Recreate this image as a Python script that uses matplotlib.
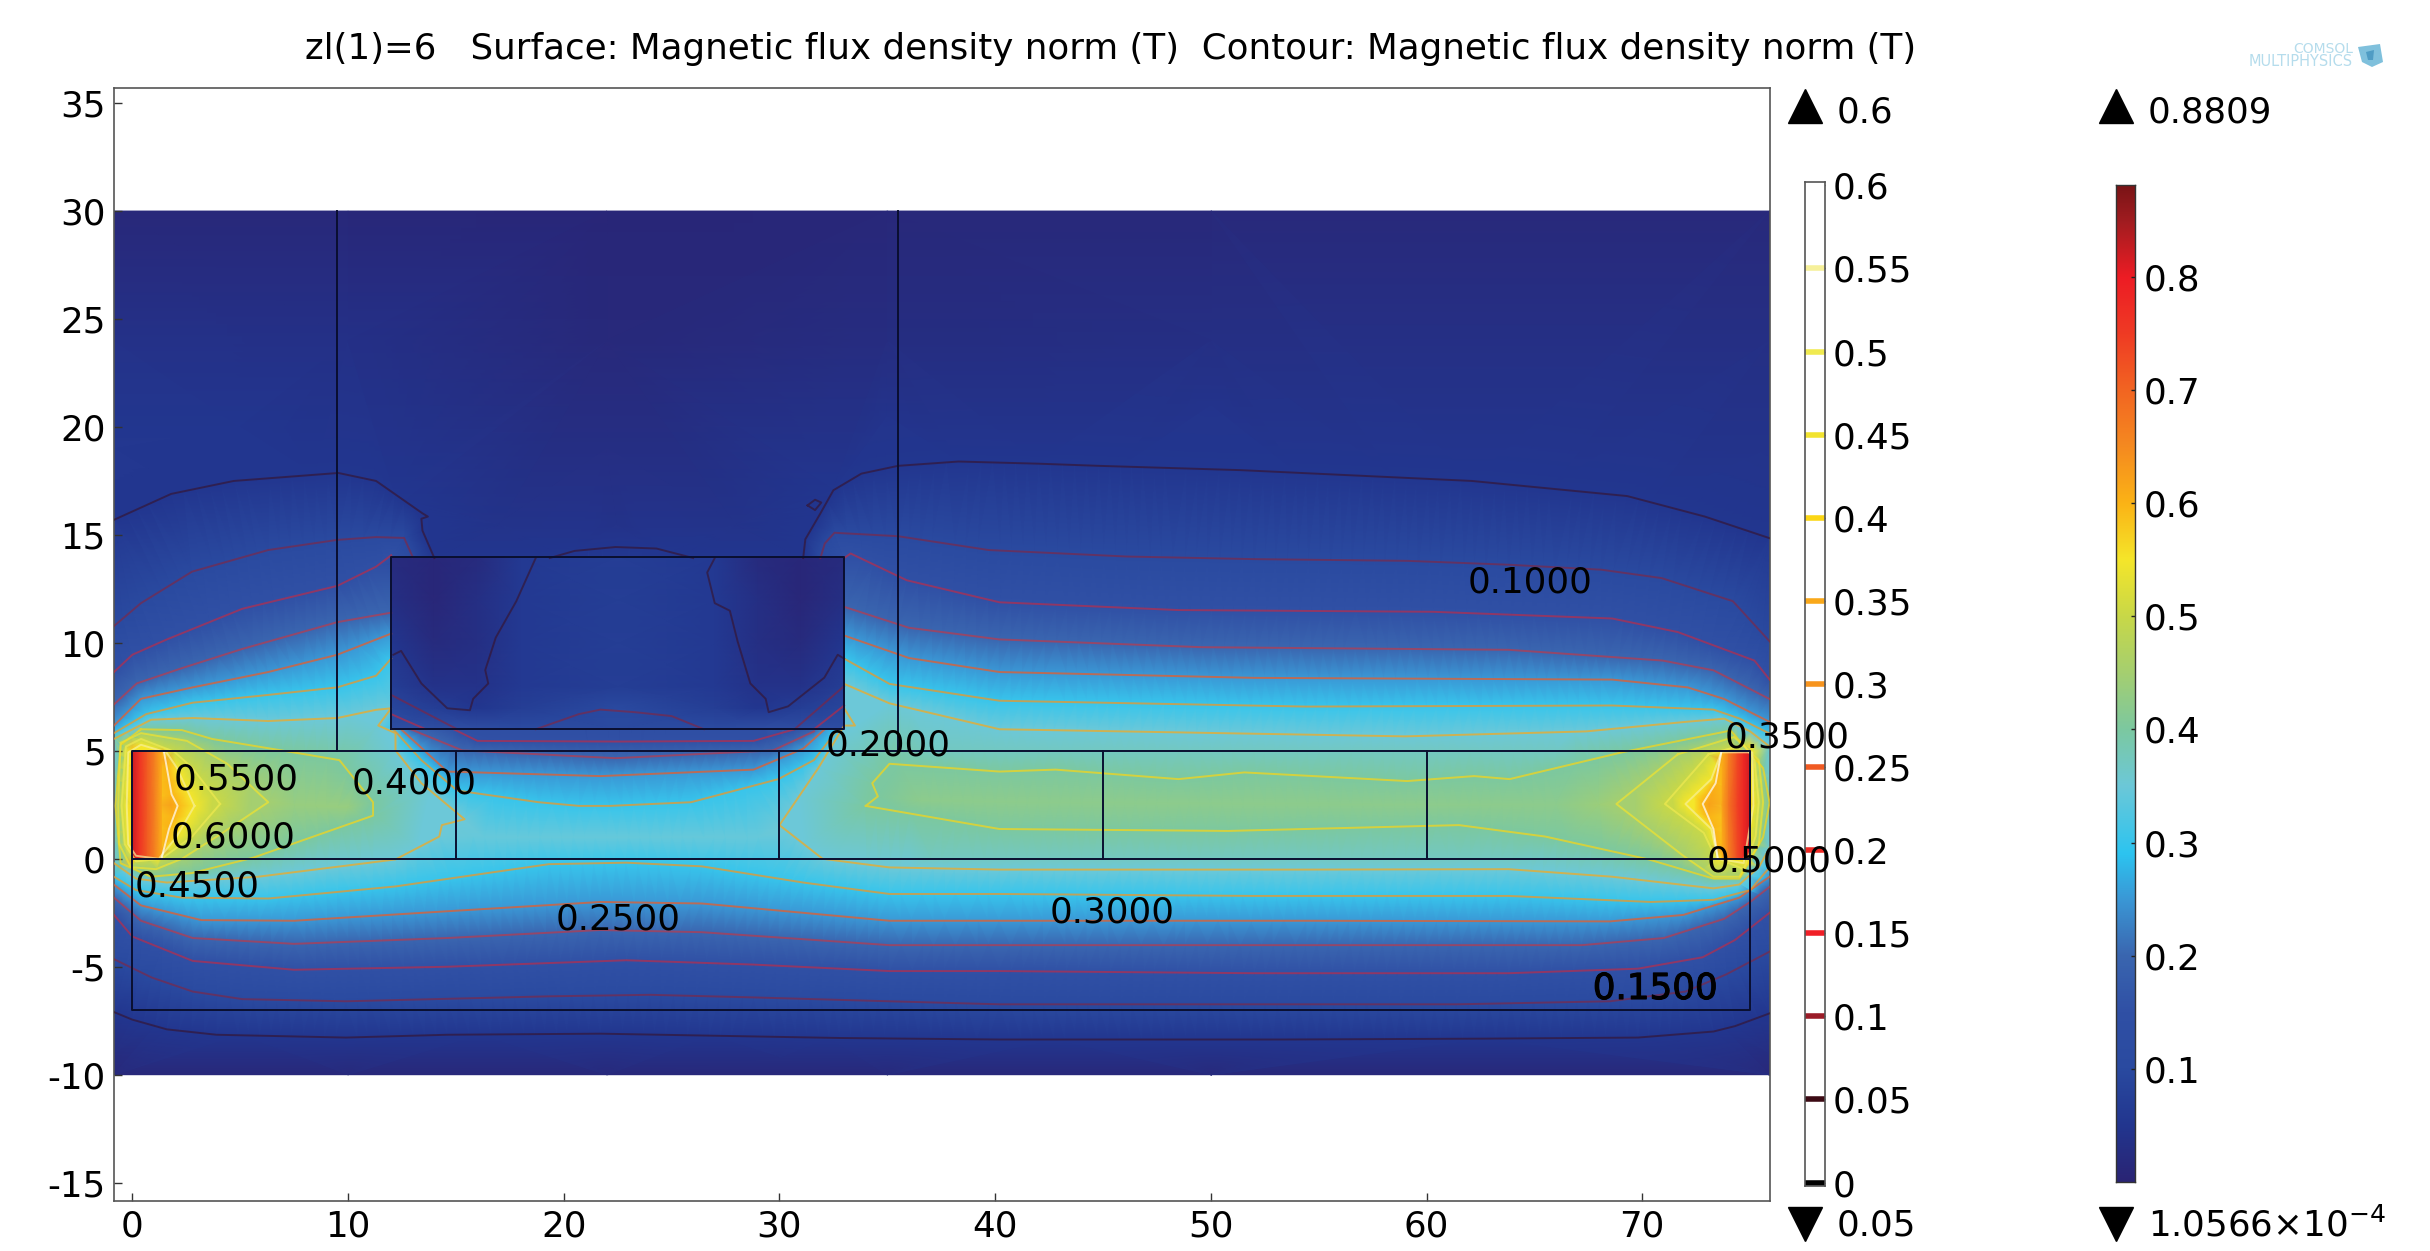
import matplotlib
matplotlib.use("Agg")
import matplotlib.pyplot as plt
from matplotlib.colors import LinearSegmentedColormap, Normalize
from matplotlib.lines import Line2D
from matplotlib.patches import Polygon
from matplotlib.tri import Triangulation
import matplotlib.patheffects as pe
import numpy as np

plt.rcParams["axes.unicode_minus"] = False

TITLE = "zl(1)=6   Surface: Magnetic flux density norm (T)  Contour: Magnetic flux density norm (T)"
X_TICKS = [0, 10, 20, 30, 40, 50, 60, 70]
Y_TICKS = [-15, -10, -5, 0, 5, 10, 15, 20, 25, 30, 35]
LEVEL_TICKS = [0, 0.05, 0.1, 0.15, 0.2, 0.25, 0.3, 0.35, 0.4, 0.45, 0.5, 0.55, 0.6]
LEVEL_LABELS = ["0", "0.05", "0.1", "0.15", "0.2", "0.25", "0.3", "0.35", "0.4", "0.45", "0.5", "0.55", "0.6"]
LEVEL_COLORS = ["#000000", "#3c0a14", "#9b1c28", "#f01f26", "#ee2a24", "#f05a22", "#f7941d",
                "#f9a81a", "#fbd615", "#f2e32f", "#f0ea50", "#f6f09a", "#ffffff"]
SURFACE_TICKS = [0.1, 0.2, 0.3, 0.4, 0.5, 0.6, 0.7, 0.8]
SURFACE_MAX = 0.8809
SURFACE_MIN = 1.0566e-4

# surface colour table, value then colour
CMAP_VALUES = [0, 0.05, 0.1, 0.15, 0.2, 0.25, 0.29, 0.35, 0.4, 0.45, 0.5, 0.55, 0.6, 0.65, 0.7, 0.75, 0.8, 0.85, 0.8809]
CMAP_COLORS = ["#2a2474", "#22368f", "#2a4aa0", "#3050a5", "#3a66b0", "#3a98d6", "#2cc4f0", "#6cc8d8", "#7cc8a0",
               "#a5cf70", "#c8d848", "#f5e62a", "#fbb316", "#f58a20", "#f26522", "#ef3b24", "#ed1c24",
               "#a01c20", "#7a1416"]

# contour lines, (x, y)
C05_BOTTOM = [(-.85, -7.1), (0, -7.45), (1.6, -7.9), (3.9, -8.15), (9.9, -8.28), (14.6, -8.15), (21.7, -8.1),
              (32.8, -8.3), (40.2, -8.37), (53.4, -8.37), (62.7, -8.33), (69.8, -8.28), (73.3, -8.0), (74.3, -7.75),
              (75.9, -7.16)]
C05_LEFT = [(-.85, 15.7), (1.8, 16.9), (4.7, 17.5), (9.55, 17.87), (11.3, 17.5), (13.45, 16), (13.7, 15.85), (13.4, 15.75),
            (13.45, 15.2), (14, 13.93)]
C05_RIGHT = [(31.1, 13.93), (31.2, 14.8), (31.9, 16), (32.5, 17.07), (33.8, 17.84), (35.5, 18.2), (38.3, 18.4),
             (42, 18.3), (44.8, 18.2), (51.4, 18), (62.1, 17.5), (69.3, 16.8), (72.9, 15.85), (75.9, 14.85)]
C05_ARCH = [(19.35, 13.93), (20.5, 14.26), (22.4, 14.44), (24.3, 14.37), (26, 13.93)]
C05_LOOP = [(31.3, 16.37), (31.65, 16.63), (31.94, 16.5), (31.65, 16.15), (31.3, 16.37)]
C05_IN_LEFT = [(18.7, 13.93), (17.8, 11.93), (16.85, 10.25), (16.36, 8.74), (16.5, 8.12), (15.8, 7.41), (15.65, 6.88),
               (14.6, 6.97), (13.4, 8.12), (12.46, 9.63), (12.1, 9.45)]
C05_IN_RIGHT = [(27, 13.93), (26.65, 13.26), (27, 11.84), (27.7, 11.49), (28.06, 10.07), (28.65, 8.12), (29.36, 7.41),
                (29.5, 6.79), (30.4, 7.06), (32.08, 8.39), (32.7, 9.45), (33, 9.27)]
C10_BOTTOM = [(-.85, -4.65), (.9, -5.5), (2.8, -6.15), (5.1, -6.5), (9.9, -6.6), (19.3, -6.37), (24, -6.3), (28.8, -6.42),
              (35.1, -6.6), (40.2, -6.74), (52, -6.74), (61.4, -6.74), (68.5, -6.6), (72, -6.15), (73.9, -5.35),
              (75.9, -4.3)]
C10_LEFT = [(-.85, 10.78), (.4, 11.84), (2.77, 13.3), (6.3, 14.3), (9.5, 14.77), (11.3, 14.9), (12.6, 14.86), (13, 13.97)]
C10_RIGHT = [(31.9, 13.93), (32.1, 14.6), (32.55, 15.1), (35.5, 14.94), (39.7, 14.3), (46.1, 14.0), (52, 13.88),
             (59.1, 13.8), (63.8, 13.62), (68.1, 13.39), (70.9, 13), (74.2, 11.93), (75.9, 10.07)]
C10_ARCH = [(18.7, 6), (20.7, 6.7), (21.7, 6.91), (23.3, 6.79), (25, 6.61), (26.5, 6)]
C10_IN_LEFT = [(12, 7.59), (15.06, 6)]
C10_IN_RIGHT = [(33, 8.0), (30.7, 6)]
C15_BOTTOM = [(-.85, -2.6), (0, -3.6), (2.8, -4.73), (7.5, -5.14), (14.6, -5.0), (22.9, -4.7), (28.8, -4.9), (35.1, -5.2),
              (40.2, -5.2), (52, -5.3), (63.8, -5.3), (69.8, -5.09), (72.8, -4.56), (74.3, -3.76), (75.9, -2.5)]
C15_LEFT = [(-.85, 8.65), (0, 9.45), (1.6, 10.16), (5.1, 11.58), (9.5, 12.64), (11.3, 13.53), (12, 14.06)]
C15_RIGHT = [(33, 13.93), (33.3, 14.14), (35.9, 12.9), (40.2, 11.88), (48.5, 11.52), (60.3, 11.44), (68.6, 11.13),
             (71.65, 10.5), (75.2, 9.18), (75.9, 8.3)]
C15_VALLEY = [(14.9, 6), (16, 5.46), (22.6, 5.43), (28.8, 5.46), (30.7, 6)]
C15_IN_LEFT = [(12, 6.7), (13.6, 6)]
C15_IN_RIGHT = [(33, 7.1), (31.6, 6)]
C20_BOTTOM = [(-.85, -1.8), (.4, -2.87), (2.8, -3.67), (7.5, -3.94), (14.6, -3.67), (21.7, -3.3), (26.4, -3.4),
              (35.1, -4.0), (40.2, -4.0), (54.4, -4.0), (67.2, -4.0), (71, -3.67), (73.8, -2.78), (75, -2), (75.9, -1.3)]
C20_LEFT = [(-.85, 7.15), (.2, 8.12), (2.3, 8.83), (5.1, 9.72), (9.5, 10.96), (12, 11.4)]
C20_RIGHT = [(33, 11.67), (36, 10.7), (40.2, 10.16), (49.6, 9.8), (63.8, 9.68), (70.95, 9.18), (73.3, 8.73), (75.9, 7.4)]
C20_VALLEY = [(12.9, 6), (15.3, 5.02), (22.4, 4.66), (29.7, 5.02), (31.6, 5.9)]
C25_BOTTOM = [(-.85, -1.2), (.4, -2.16), (3.2, -2.84), (7.5, -2.87), (14.6, -2.43), (21.7, -2), (26.4, -2.07),
              (35.1, -2.87), (40.2, -2.87), (54.4, -2.87), (68.5, -2.9), (71.9, -2.6), (74.5, -1.8), (75.9, -.83)]
C25_LEFT = [(-.85, 6.17), (.4, 7.41), (2.8, 7.94), (6.3, 8.65), (9.5, 9.45), (12, 10.43)]
C25_RIGHT = [(33, 10.34), (36, 9.3), (40.2, 8.65), (52, 8.38), (68.6, 8.3), (72.1, 7.94), (73.8, 7.4), (75.9, 6.34)]
C25_VALLEY = [(12.46, 6), (14.6, 4.04), (21.7, 3.83), (28.8, 4.13), (31.1, 5.1), (32.1, 6)]
C30_BOTTOM = [(-.85, -.83), (.17, -1.45), (2.3, -1.8), (6.3, -1.84), (12.2, -1.28), (19.3, -.25), (22.9, -.18),
              (26.4, -.35), (31.1, -1.1), (35.1, -1.63), (40.2, -1.63), (52, -1.72), (63.8, -1.72), (70.4, -2),
              (73.3, -1.9), (75, -1.45), (75.9, -.4)]
C30_LEFT = [(-.85, 5.82), (.64, 6.7), (2.8, 7.23), (6.3, 7.59), (9.5, 7.94), (11.3, 8.48), (12, 9.27)]
C30_RIGHT = [(33, 9.27), (35.1, 8.1), (40.2, 7.32), (54.4, 7.05), (68.6, 7.1), (73.3, 6.91), (74.5, 6.5), (75.9, 5.8)]
C30_VALLEY = [(12.1, 6), (13.4, 4.57), (15.06, 3.16), (18.84, 2.62), (20.7, 2.45), (22.15, 2.45), (25.9, 2.62),
              (29.95, 3.69), (31.6, 4.57), (32.7, 6)]
C35_LEFT = [(-.85, 5.55), (.87, 6.44), (2.8, 6.52), (6.3, 6.38), (9.5, 6.52), (11.3, 6.9), (12, 6.97), (11.4, 6.17),
            (12.2, 5.82), (12.2, 5.02), (13.4, 3.5), (15.4, 1.83), (14.35, 1.56), (14.23, 1.03), (12.2, -.03), (5.84, -.83),
            (1.6, -1.1), (.17, -.92), (-.85, -.2)]
C35_RIGHT = [(33, 8.1), (35.1, 7.2), (40.2, 6.0), (59, 5.67), (67.4, 5.9), (72.1, 6.35), (73.8, 6.49), (75, 5.9), (75.9, 5.2)]
C35_MIDDLE = [(33, 6.97), (33.5, 6.17), (33, 6.17), (31.8, 4.2), (30, 1.56), (32, 0), (35.1, -.4), (40.2, -.5), (54.4, -.5),
              (63.8, -.48), (68.6, -.83), (73.3, -1.37), (74.5, -1.19), (75.4, -.39), (75.9, .5)]
C40_LEFT = [(.4, 6), (2.3, 5.96), (3.7, 5.55), (8, 4.84), (9.6, 4.57), (11.16, 2.62), (11.16, 2), (5.6, .05), (2.77, -.66),
            (.87, -.83), (-.54, -.21), (-.78, 2.45), (-.54, 5.28), (.4, 6)]
C40_RIGHT = [(34, 2.45), (34.56, 2.89), (34.3, 3.5), (35.1, 4.4), (40.2, 4.04), (42.8, 4.13), (48.5, 3.69), (51.55, 4),
             (59.1, 3.6), (62.2, 3.83), (63.85, 3.69), (69.05, 4.93), (74.1, 5.94), (75.6, 4.2), (75.9, 2.6), (75.6, 1),
             (74.5, -.92), (73.3, -.92), (70.3, -.03), (65.5, 1.03), (61.5, 1.56), (50.8, 1.29), (40.2, 1.38), (34, 2.45)]
C45_LEFT = [(-.54, 5.37), (.4, 5.82), (2.53, 5.46), (4.4, 4.4), (6.3, 2.62), (4.18, 1.2), (2.3, 0), (1.1, -.48), (-.07, -.39),
            (-.6, .67), (-.66, 2.45), (-.54, 5.37)]
C45_RIGHT = [(71.65, 4.84), (68.8, 2.54), (71.9, .14), (73.3, -.83), (74.5, -.83), (75.4, .67), (75.6, 2.62), (75.4, 4.57),
             (74.25, 5.64), (71.65, 4.84)]
C50_LEFT = [(4.07, 2.54), (2.77, 4.22), (1.94, 4.96), (.4, 5.55), (-.3, 5.2), (-.5, 2.45), (-.35, .67), (.17, -.12), (1.35, 0),
            (2.77, 1.03), (4.07, 2.54)]
C50_RIGHT = [(73.07, 4.84), (71.05, 2.54), (72.85, 1.2), (73.4, .05), (74.7, -.48), (75.25, 1.03), (75.4, 2.62), (75.2, 4.57),
             (74.7, 5.28), (73.07, 4.84)]
C55_LEFT = [(2.88, 2.45), (2.06, 4.22), (1.58, 4.93), (.4, 5.28), (-.19, 4.93), (-.26, 2.45), (-.19, .67), (.17, .14), (1.23, 0),
            (2.06, 1.03), (2.88, 2.45)]
C55_RIGHT = [(73.66, 4.93), (73.2, 3.69), (72, 2.54), (73.2, 1.38), (73.5, 0), (74.7, -.2), (75.15, 2.45), (75.1, 4.93),
             (73.66, 4.93)]
C60_LEFT = [(1.47, 4.93), (1.82, 2.98), (2.1, 2.45), (1.7, 1.38), (1.35, 0)]
C60_RIGHT = [(73.66, 4.93), (73.4, 3.5), (72.8, 2.54), (73.3, 1.38), (73.5, 0)]

# lines outside the shield block, these also carry the surface
CONTOURS = [
    (0.05, C05_BOTTOM), (0.05, C05_LEFT), (0.05, C05_RIGHT), (0.05, C05_ARCH),
    (0.1, C10_BOTTOM), (0.1, C10_LEFT), (0.1, C10_RIGHT),
    (0.15, C15_BOTTOM), (0.15, C15_LEFT), (0.15, C15_RIGHT), (0.15, C15_VALLEY),
    (0.2, C20_BOTTOM), (0.2, C20_LEFT), (0.2, C20_RIGHT), (0.2, C20_VALLEY),
    (0.25, C25_BOTTOM), (0.25, C25_LEFT), (0.25, C25_RIGHT), (0.25, C25_VALLEY),
    (0.3, C30_BOTTOM), (0.3, C30_LEFT), (0.3, C30_RIGHT), (0.3, C30_VALLEY),
    (0.35, C35_LEFT), (0.35, C35_RIGHT), (0.35, C35_MIDDLE),
    (0.4, C40_LEFT), (0.4, C40_RIGHT),
    (0.45, C45_LEFT), (0.45, C45_RIGHT),
    (0.5, C50_LEFT), (0.5, C50_RIGHT),
    (0.55, C55_LEFT), (0.55, C55_RIGHT),
    (0.6, C60_LEFT), (0.6, C60_RIGHT),
]
# lines drawn only, inside the shield block, plus the little loop
CONTOURS_DRAWN_ONLY = [
    (0.05, C05_IN_LEFT), (0.05, C05_IN_RIGHT), (0.05, C05_LOOP),
    (0.1, C10_ARCH), (0.1, C10_IN_LEFT), (0.1, C10_IN_RIGHT),
    (0.15, C15_IN_LEFT), (0.15, C15_IN_RIGHT),
]
# ridges of the surface between the contours, not drawn
RIDGES = [
    (0.42, [(36.5, 2.7), (44, 2.6), (60, 2.5), (66, 2.5)]),
    (0.345, [(15.8, 1), (22.5, 1), (29, 1)]),
    (0.435, [(7.5, 2.5), (10, 2.4)]),
    (0.37, [(37, 5), (50, 5), (66, 4.95)]),
    (0.37, [(37, 0), (50, 0), (64, 0)]),
]

# extra surface samples away from the contour lines, (x, y, value)
SURFACE_SAMPLES = [
    (-.85, 30, .012), (10, 30, .012), (22, 30, .008), (35, 30, .012), (50, 30, .014), (75.9, 30, .014),
    (-.85, 24, .04), (10, 24, .035), (22, 24, .015), (35, 24, .025), (50, 24, .03), (75.9, 24, .03),
    (-.85, 19, .055), (5, 20, .05), (22, 19, .028), (35, 20.5, .045), (50, 21, .045), (75.9, 19, .042),
    (17, 15.5, .042), (22.5, 15.5, .04), (28, 15.5, .042),
    (-.85, -10, .012), (10, -10, .012), (22, -10, .012), (35, -10, .012), (50, -10, .012), (75.9, -10, .012),
    (-.85, -9, .025), (30, -9.2, .03), (75.9, -9, .025),
    (-.85, 2.5, .36), (-.85, 1, .36), (-.85, 4, .36), (75.9, 3.8, .35), (75.9, 1.5, .35),
    (68, 2.5, .44),
    (1.4, .4, .62), (1.8, 2.5, .62), (1.5, 4.6, .62), (0, 5.15, .58), (0, -.15, .58), (-.1, 2.5, .56),
    (73.6, .4, .62), (73.1, 2.5, .62), (73.7, 4.6, .62), (75, 5.15, .56), (75, -.15, .56), (75.15, 2.5, .56),
]

# shield block, x 12..33 y 6..14, dark at the corners
SHIELD_X = [12, 14, 16, 18, 22.5, 27, 29, 31, 33]
SHIELD_Y = [6, 7, 8, 10, 12, 14]
SHIELD_V = [[.13, .13, .13, .11, .11, .11, .13, .13, .13],
            [.09, .07, .05, .07, .10, .07, .05, .07, .09],
            [.07, .04, .04, .06, .07, .06, .04, .04, .07],
            [.05, .02, .03, .06, .07, .06, .03, .02, .05],
            [.03, .01, .03, .06, .07, .06, .03, .01, .03],
            [.02, .01, .02, .06, .07, .06, .02, .01, .02]]

# the two magnet strips
MAGNET_LEFT_X = [0, .35, .7, 1.05, 1.35]
MAGNET_RIGHT_X = [73.7, 74, 74.4, 74.7, 75]
MAGNET_Y = [0, 2.5, 5]
MAGNET_LEFT_V = [[.82, .76, .71, .66, .61], [.82, .76, .71, .66, .61], [.82, .76, .71, .66, .61]]
MAGNET_RIGHT_V = [[.60, .66, .73, .78, .82], [.62, .68, .74, .78, .82], [.60, .66, .73, .78, .82]]

# geometry edges
GEOMETRY_LINES = [
    ([9.5, 9.5], [5, 30]), ([35.5, 35.5], [5, 30]),
    ([12, 33, 33, 12, 12], [6, 6, 14, 14, 6]),
    ([0, 75, 75, 0, 0], [0, 0, 5, 5, 0]),
    ([0, 0, 75, 75], [0, -7, -7, 0]),
    ([15, 15], [0, 5]), ([30, 30], [0, 5]), ([45, 45], [0, 5]), ([60, 60], [0, 5]),
]

# contour labels, text then position
LABEL_TEXT = ["0.1000", "0.1500", "0.2000", "0.2500", "0.3000", "0.3500", "0.4000", "0.4500", "0.5000", "0.5500", "0.6000"]
LABEL_X = [64.8, 70.6, 35.05, 22.5, 45.4, 76.7, 13.07, 3.02, 75.9, 4.8, 4.67]
LABEL_Y = [12.8, -6.03, 5.24, -2.8, -2.5, 5.6, 3.51, -1.29, -.14, 3.66, 1.0]

W, H = 2430, 1251
FS = 25.7


def px_axes(left, top, right, bottom):
    return fig.add_axes([left / W, 1 - bottom / H, (right - left) / W, (bottom - top) / H])


# more mesh nodes along a read line so neighbouring levels get joined up
def mesh_nodes(line, step=0.5):
    out = []
    for (x0, y0), (x1, y1) in zip(line[:-1], line[1:]):
        n = max(1, int(np.hypot(x1 - x0, y1 - y0) / step))
        for k in range(n):
            out.append((round(x0 + (x1 - x0) * k / n, 3), round(y0 + (y1 - y0) * k / n, 3)))
    out.append(line[-1])
    return out


fig = plt.figure(figsize=(W / 100, H / 100), dpi=100, facecolor="white")

stops = [(v / SURFACE_MAX, c) for v, c in zip(CMAP_VALUES, CMAP_COLORS)]
cmap = LinearSegmentedColormap.from_list("comsol", stops, N=512)
norm = Normalize(0, SURFACE_MAX)

ax = px_axes(114, 88, 1770, 1201)
ax.set_zorder(5)
ax.patch.set_alpha(0)

# surface built on the contour points plus ridges and samples
pts = {}
for level, line in CONTOURS + RIDGES:
    for p in mesh_nodes(line):
        pts.setdefault(p, level)
for x, y, v in SURFACE_SAMPLES:
    pts.setdefault((x, y), v)
xs = np.array([p[0] for p in pts])
ys = np.array([p[1] for p in pts])
vs = np.array(list(pts.values()))
ax.tripcolor(Triangulation(xs, ys), vs, shading="gouraud", cmap=cmap, norm=norm, zorder=1)
ax.pcolormesh(SHIELD_X, SHIELD_Y, SHIELD_V, shading="gouraud", cmap=cmap, norm=norm, zorder=2)
ax.pcolormesh(MAGNET_LEFT_X, MAGNET_Y, MAGNET_LEFT_V, shading="gouraud", cmap=cmap, norm=norm, zorder=2)
ax.pcolormesh(MAGNET_RIGHT_X, MAGNET_Y, MAGNET_RIGHT_V, shading="gouraud", cmap=cmap, norm=norm, zorder=2)

level_color = dict(zip(LEVEL_TICKS, LEVEL_COLORS))
for level, line in CONTOURS + CONTOURS_DRAWN_ONLY:
    line = np.array(line)
    ax.plot(line[:, 0], line[:, 1], color=level_color[level], lw=1.4, alpha=0.5 if level <= 0.2 else 0.7, zorder=3)

for lx, ly in GEOMETRY_LINES:
    ax.plot(lx, ly, color="#0a0f30", lw=1.4, zorder=4)

for t, x, y in zip(LABEL_TEXT, LABEL_X, LABEL_Y):
    txt = ax.text(x, y, t, fontsize=FS, ha="center", va="center", color="black", zorder=6, clip_on=False)
    if t == "0.1500":
        txt.set_path_effects([pe.withStroke(linewidth=0.8, foreground="black")])

ax.set_xlim(-0.85, 75.92)
ax.set_ylim(-15.85, 35.7)
ax.set_xticks(X_TICKS)
ax.set_yticks(Y_TICKS)
ax.tick_params(direction="in", length=6, width=1, labelsize=FS, color="#333333", pad=6)
for s in ax.spines.values():
    s.set_color("#555555")
    s.set_linewidth(1.2)

fig.text(305 / W, 1 - 49.5 / H, TITLE, fontsize=FS * 0.998, ha="left", va="center")

# contour level bar
bar = px_axes(1805, 181.7, 1824.6, 1186)
bar.set_xlim(0, 1)
bar.set_ylim(-0.0021, 0.6022)
bar.hlines(LEVEL_TICKS, 0, 1, colors=LEVEL_COLORS, lw=4)
bar.set_xticks([])
bar.yaxis.tick_right()
bar.set_yticks(LEVEL_TICKS, LEVEL_LABELS)
bar.tick_params(direction="in", length=3, width=1, labelsize=FS, color="#333333", pad=6)
for s in bar.spines.values():
    s.set_color("#555555")
    s.set_linewidth(1.2)

# surface bar
sbar = px_axes(2115.6, 185, 2135, 1182)
ramp = np.linspace(SURFACE_MIN, SURFACE_MAX, 512).reshape(-1, 1)
sbar.imshow(ramp, origin="lower", aspect="auto", cmap=cmap, norm=norm, extent=[0, 1, SURFACE_MIN, SURFACE_MAX])
sbar.set_xticks([])
sbar.yaxis.tick_right()
sbar.set_yticks(SURFACE_TICKS, [str(v) for v in SURFACE_TICKS])
sbar.tick_params(direction="in", length=3, width=1, labelsize=FS, color="#222222", pad=6)
for s in sbar.spines.values():
    s.set_color("#333333")
    s.set_linewidth(1)

# max and min markers
for cx, marker, cy in [(1805, "^", 106), (2115.5, "^", 106), (1805, "v", 1224), (2115.5, "v", 1224)]:
    fig.add_artist(Line2D([cx / W], [1 - cy / H], marker=marker, ms=24, color="black", mec="black", ls="none",
                          transform=fig.transFigure))
fig.text(1837 / W, 1 - 112.5 / H, "0.6", fontsize=FS, va="center")
fig.text(2148 / W, 1 - 112.5 / H, "0.8809", fontsize=FS, va="center")
fig.text(1837 / W, 1 - 1225 / H, "0.05", fontsize=FS, va="center")
fig.text(2148 / W, 1 - 1225 / H, "1.0566×10$^{-4}$", fontsize=FS, va="center")

# logo
fig.text(2353 / W, 1 - 49 / H, "COMSOL", fontsize=10, color="#b5dcec", ha="right", va="center")
fig.text(2353 / W, 1 - 61 / H, "MULTIPHYSICS", fontsize=10.5, color="#b5dcec", ha="right", va="center")
cube = [(2358, 47), (2380, 44), (2383, 62), (2372, 67), (2362, 62)]
inner = [(2366, 52), (2374, 50), (2373, 60), (2368, 60)]
fig.add_artist(Polygon([(x / W, 1 - y / H) for x, y in cube], closed=True, fc="#7fc0dc", ec="none",
                       transform=fig.transFigure))
fig.add_artist(Polygon([(x / W, 1 - y / H) for x, y in inner], closed=True, fc="#4f9cc4", ec="none",
                       transform=fig.transFigure))

fig.savefig("out.png", dpi=100)
